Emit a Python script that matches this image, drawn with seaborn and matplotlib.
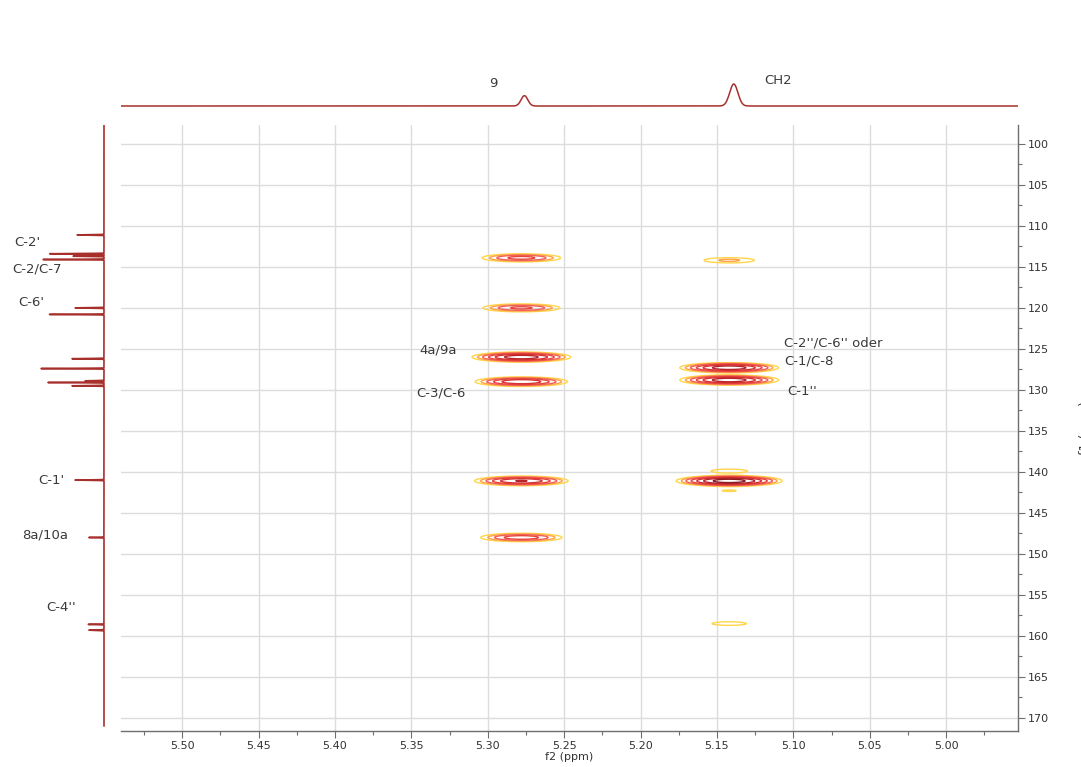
import numpy as np
import pandas as pd
import matplotlib
matplotlib.use("Agg")
import matplotlib.pyplot as plt
from matplotlib.ticker import MultipleLocator
import seaborn as sns

# ---- 1H projection (f2) ----
h_shift = [5.276, 5.139]
h_height = [0.47, 1.0]
h_width = [0.0022, 0.0027]
h_labels = ["9", "CH2"]

# ---- 13C projection (f1) ----
c_shift = [111.1, 113.4, 113.7, 114.1, 120.0, 120.8, 126.2, 127.4,
           128.9, 129.1, 129.5, 141.0, 148.0, 158.6, 159.3]
c_height = [0.43, 0.86, 0.49, 0.97, 0.46, 0.87, 0.51, 1.0,
            0.30, 0.89, 0.51, 0.46, 0.24, 0.25, 0.24]
c_labels = ["C-2'", "C-2/C-7", "C-6'", "C-1'", "8a/10a", "C-4''"]
c_label_ppm = [112.0, 115.3, 119.4, 141.0, 147.7, 156.5]
c_label_x = [1.21, 1.06, 1.16, 0.83, 0.94, 0.68]

# ---- 2D cross peaks (f2, f1, intensity) ----
xp_f2 = [5.278, 5.278, 5.278, 5.278, 5.278, 5.278,
         5.142, 5.142, 5.142, 5.142, 5.142, 5.142, 5.142]
xp_f1 = [113.9, 120.0, 126.0, 129.0, 141.1, 148.0,
         114.2, 127.3, 128.8, 141.1, 158.5, 139.9, 142.3]
xp_amp = [0.48, 0.45, 1.2, 0.88, 0.93, 0.54,
          0.19, 1.2, 1.2, 1.75, 0.135, 0.14, 0.105]

cross_labels = ["4a/9a", "C-3/C-6", "C-2''/C-6'' oder", "C-1/C-8", "C-1''"]
cross_label_f2 = [5.345, 5.347, 5.106, 5.106, 5.104]
cross_label_f1 = [125.1, 130.4, 124.3, 126.5, 130.2]

f2_lim = (5.54, 4.953)
f1_lim = (171.6, 97.7)

contour_levels = [0.1, 0.17, 0.26, 0.4, 0.6, 0.9, 1.35]
contour_colors = ["#FFD64A", "#FFA24A", "#F0605A", "#E8443C", "#D63232", "#B8242B", "#8C1C22"]
spec_color = "#A8302C"
text_color = "#3A3A3A"

sns.set_theme(style="white")
plt.rcParams["font.family"] = ["DejaVu Sans"]

W, H = 1081, 767
fig = plt.figure(figsize=(W / 100, H / 100), dpi=100)

def px_axes(x0, y0, x1, y1):
    return fig.add_axes([x0 / W, 1 - y1 / H, (x1 - x0) / W, (y1 - y0) / H])

ax = px_axes(121, 125, 1018, 731)
ax_top = px_axes(121, 60, 1018, 110)
ax_left = px_axes(0, 125, 110, 731)

# ---- 2D contour map ----
gx = np.linspace(4.95, 5.545, 900)
gy = np.linspace(97.5, 172.0, 1500)
X, Y = np.meshgrid(gx, gy)
Z = np.zeros_like(X)
sx, sy = 0.0145, 0.28
for x0, y0, a in zip(xp_f2, xp_f1, xp_amp):
    Z += a * np.exp(-((X - x0) ** 2 / (2 * sx ** 2) + (Y - y0) ** 2 / (2 * sy ** 2)))
ax.contour(X, Y, Z, levels=contour_levels, colors=contour_colors, linewidths=1.0)

ax.set_xlim(*f2_lim)
ax.set_ylim(*f1_lim)
ax.xaxis.set_major_locator(MultipleLocator(0.05))
ax.xaxis.set_minor_locator(MultipleLocator(0.025))
ax.yaxis.set_major_locator(MultipleLocator(5))
ax.yaxis.set_minor_locator(MultipleLocator(2.5))
ax.xaxis.set_major_formatter(matplotlib.ticker.FormatStrFormatter("%.2f"))
ax.grid(True, which="major", color="#DCDCDC", linewidth=1.0)
ax.yaxis.tick_right()
ax.yaxis.set_label_position("right")
for s in ["top", "left"]:
    ax.spines[s].set_visible(False)
for s in ["bottom", "right"]:
    ax.spines[s].set_color("#6E6E6E")
    ax.spines[s].set_linewidth(1.0)
ax.tick_params(axis="both", which="major", length=5, width=0.8, color="#6E6E6E",
               labelsize=8, labelcolor="#333333", pad=2)
ax.tick_params(axis="both", which="minor", length=3, width=0.8, color="#6E6E6E")
ax.tick_params(axis="x", which="both", bottom=True, direction="out")
ax.tick_params(axis="y", which="both", right=True, left=False, direction="out")
ax.set_xlabel("f2 (ppm)", fontsize=8, color="#333333", labelpad=1)
ax.set_ylabel("f1 (ppm)", fontsize=9, color="#333333", rotation=90, labelpad=22)

for t, x, y in zip(cross_labels, cross_label_f2, cross_label_f1):
    ax.text(x, y, t, fontsize=9.5, color=text_color, ha="left", va="center")

# ---- top 1H projection ----
hx = np.linspace(f2_lim[0], f2_lim[1], 3000)
hy = np.zeros_like(hx)
for c, h, w in zip(h_shift, h_height, h_width):
    hy += h * np.exp(-((hx - c) ** 2) / (2 * w ** 2))
sns.lineplot(x=hx, y=hy, ax=ax_top, color=spec_color, linewidth=1.1, sort=False)
ax_top.set_xlim(*f2_lim)
ax_top.set_ylim(-4 / 22, 46 / 22)
ax_top.axis("off")
top_label_y = [1.04, 1.14]
top_label_x = [5.2965, 5.110]
for t, x, y in zip(h_labels, top_label_x, top_label_y):
    ax_top.text(x, y, t, fontsize=9.5, color=text_color, ha="center", va="center")

# ---- left 13C projection ----
cy = np.linspace(97.7, 171.0, 12000)
cx = np.zeros_like(cy)
for c, h in zip(c_shift, c_height):
    cx += h * np.exp(-((cy - c) ** 2) / (2 * 0.025 ** 2))
sns.lineplot(x=cx, y=cy, ax=ax_left, color=spec_color, linewidth=1.2, orient="y", sort=False)
ax_left.set_ylim(*f1_lim)
ax_left.set_xlim(104 / 63, -6 / 63)
ax_left.axis("off")
for t, x, y in zip(c_labels, c_label_x, c_label_ppm):
    ax_left.text(x, y, t, fontsize=9.5, color=text_color, ha="center", va="center")

fig.savefig("out.png", dpi=100, facecolor="white")
